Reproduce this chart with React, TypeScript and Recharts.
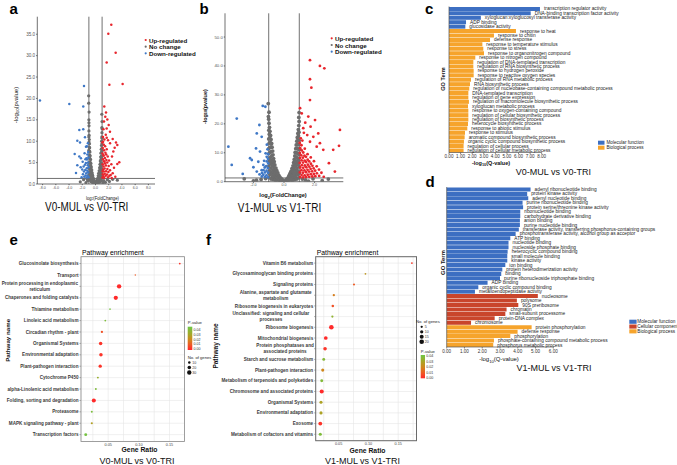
import React from "react";
import {
  ScatterChart,
  Scatter,
  XAxis,
  YAxis,
  ZAxis,
  ReferenceLine,
  CartesianGrid,
  BarChart,
  Bar,
  Cell,
  LabelList,
} from "recharts";

type Pt = [number, number];

const FONT = '"Liberation Sans", Arial, Helvetica, sans-serif';
const RED = "#e8262d";
const GREY = "#6d6d6d";
const BLUE = "#3f78c6";

// thresholds used in both volcano plots
const fcCut = 1;
const pCut = 1.3; // -log10(0.05)

// ---------- a: V0-MUL vs V0-TRI (log2FC, -log10 p) ----------
const aUp: Pt[] = [
  [2.39, 37.2], [1.94, 35.1], [3.05, 30.7], [1.69, 28.4], [2.1, 23.2], [4.1, 23.4],
  [1.33, 18.1], [1.59, 16.7], [1.48, 15.7], [1.29, 14.6], [1.79, 15.1], [2.0, 13.8],
  [2.19, 12.2], [1.69, 13.0], [2.9, 8.5], [3.3, 9.1], [3.1, 9.7], [3.6, 5.1], [3.3, 4.7],
  [2.5, 6.4], [2.7, 7.6], [2.2, 9.5],
  [1.05, 1.5], [1.1, 2.3], [1.15, 3.4], [1.08, 4.6], [1.12, 5.8], [1.06, 7.1], [1.1, 8.4],
  [1.04, 9.7], [1.14, 11.0], [1.2, 1.8], [1.25, 2.9], [1.22, 4.1], [1.28, 5.3], [1.24, 6.6],
  [1.3, 7.9], [1.26, 9.2], [1.35, 10.4], [1.32, 1.4], [1.4, 2.4], [1.38, 3.6], [1.45, 4.8],
  [1.42, 6.1], [1.5, 7.3], [1.46, 8.8], [1.55, 1.9], [1.6, 3.0], [1.58, 4.3], [1.65, 5.6],
  [1.62, 6.9], [1.7, 8.1], [1.75, 2.2], [1.8, 3.5], [1.78, 5.0], [1.85, 6.4], [1.9, 1.6],
  [1.95, 2.8], [2.0, 4.2], [2.05, 5.5], [2.1, 1.9], [2.2, 3.2], [2.3, 2.1], [2.4, 4.6],
  [2.6, 2.5], [2.8, 3.8], [3.0, 1.7], [2.45, 1.4], [1.9, 10.2], [1.55, 11.5], [1.2, 12.8],
  [1.15, 9.9], [1.7, 10.8], [2.6, 10.5], [1.36, 5.2], [1.08, 3.0], [1.18, 6.8],
];
const aNone: Pt[] = [
  [0.05, 0.1], [0.1, 0.4], [0.15, 0.2], [0.18, 0.7], [0.24, 0.4], [0.27, 1.0], [0.31, 0.6],
  [0.35, 1.4], [0.37, 0.3], [0.41, 1.9], [0.44, 1.0], [0.48, 2.5], [0.5, 0.5], [0.52, 1.6],
  [0.55, 3.1], [0.57, 2.2], [0.6, 1.1], [0.62, 3.8], [0.63, 2.7], [0.66, 0.4], [0.68, 4.6],
  [0.69, 3.3], [0.7, 1.8], [0.73, 5.4], [0.74, 4.1], [0.76, 2.5], [0.77, 0.9], [0.79, 6.3],
  [0.8, 4.9], [0.81, 3.2], [0.83, 7.2], [0.84, 5.7], [0.85, 1.6], [0.86, 4.0], [0.87, 8.1],
  [0.88, 6.5], [0.89, 2.6], [0.9, 9.0], [0.91, 7.4], [0.92, 4.8], [0.93, 10.0], [0.94, 0.8],
  [0.94, 8.3], [0.95, 3.5], [0.96, 11.0], [0.96, 6.0], [0.97, 9.4], [0.98, 12.0], [0.98, 2.0],
  [0.99, 7.7], [1.0, 10.7], [1.0, 4.6], [0.97, 13.2], [0.99, 14.6], [0.96, 16.3], [1.0, 12.9],
  [-0.04, 0.2], [-0.09, 0.5], [-0.14, 0.1], [-0.19, 0.8], [-0.23, 0.3], [-0.28, 1.1],
  [-0.32, 0.6], [-0.36, 1.5], [-0.4, 0.2], [-0.42, 2.0], [-0.45, 1.1], [-0.49, 2.6],
  [-0.51, 0.6], [-0.53, 1.8], [-0.56, 3.3], [-0.58, 2.3], [-0.61, 1.2], [-0.63, 4.0],
  [-0.64, 2.9], [-0.67, 0.5], [-0.69, 4.8], [-0.7, 3.5], [-0.71, 1.9], [-0.74, 5.7],
  [-0.75, 4.3], [-0.77, 2.6], [-0.78, 1.0], [-0.8, 6.6], [-0.81, 5.1], [-0.82, 3.4],
  [-0.84, 7.5], [-0.85, 6.0], [-0.86, 1.7], [-0.87, 4.2], [-0.88, 8.5], [-0.89, 6.8],
  [-0.9, 2.8], [-0.91, 9.4], [-0.92, 7.7], [-0.93, 5.0], [-0.94, 10.4], [-0.95, 0.9],
  [-0.95, 8.6], [-0.96, 3.7], [-0.97, 11.4], [-0.97, 6.3], [-0.98, 9.8], [-0.99, 12.4],
  [-0.99, 2.2], [-1.0, 7.9], [-1.0, 11.0], [-1.0, 4.9], [-0.98, 13.6], [-1.0, 15.0],
  [-0.97, 16.8], [-1.02, 18.9], [-0.99, 14.3], [-1.03, 20.6],
  [1.25, 0.8], [1.5, 0.4], [1.8, 1.0], [2.1, 0.6], [2.6, 1.1], [3.3, 0.9], [1.15, 0.2],
  [-1.2, 0.7], [-1.45, 0.3], [-1.8, 1.0], [-2.3, 0.5], [-1.3, 1.2],
];
const aDown: Pt[] = [
  [-8.4, 19.5], [-3.96, 18.7], [-1.85, 18.1], [-1.74, 22.9], [-2.45, 12.6], [-1.85, 12.8],
  [-2.75, 10.1], [-2.34, 9.7], [-3.15, 7.0], [-2.45, 6.4], [-2.75, 4.4], [-2.24, 3.9],
  [-2.95, 2.6], [-1.94, 5.2], [-1.59, 10.9], [-1.44, 8.7],
  [-1.05, 1.6], [-1.1, 2.7], [-1.04, 3.9], [-1.12, 5.0], [-1.06, 6.2], [-1.1, 7.5],
  [-1.2, 1.9], [-1.25, 3.1], [-1.18, 4.4], [-1.28, 5.7], [-1.22, 6.9], [-1.35, 1.5],
  [-1.4, 2.5], [-1.32, 3.7], [-1.45, 4.9], [-1.38, 6.0], [-1.5, 2.0], [-1.55, 3.3],
  [-1.6, 4.5], [-1.52, 5.8], [-1.7, 1.7], [-1.75, 2.9], [-1.8, 4.1], [-1.9, 2.3],
  [-2.0, 3.4], [-2.1, 1.6], [-1.65, 7.2], [-1.3, 8.8], [-1.15, 9.5], [-2.2, 6.0],
];
const aXTicks = [-8, -6, -4, -2, 0, 2, 4, 6, 8];
const aYTicks = [0, 5, 10, 15, 20, 25, 30, 35];

// ---------- b: V1-MUL vs V1-TRI ----------
const bUp: Pt[] = [
  [1.7, 42.0], [2.64, 39.2], [2.35, 40.0], [1.7, 35.4], [1.79, 32.5], [3.66, 17.9],
  [3.6, 12.4], [3.22, 11.0], [3.33, 3.5], [2.94, 6.4], [1.7, 28.2], [1.05, 25.4],
  [1.16, 23.6], [1.59, 22.5], [2.03, 21.3], [1.39, 20.4], [1.74, 19.0], [1.26, 18.5],
  [2.24, 16.7], [1.52, 16.1], [1.92, 15.5], [2.35, 13.3], [1.7, 13.8], [2.14, 12.1],
  [2.57, 11.0],
  [1.05, 1.6], [1.04, 3.2], [1.06, 4.9], [1.03, 6.5], [1.05, 8.2], [1.04, 9.9], [1.06, 11.6],
  [1.03, 13.4], [1.15, 2.3], [1.14, 4.0], [1.16, 5.7], [1.15, 7.4], [1.13, 9.1], [1.16, 10.8],
  [1.14, 12.6], [1.25, 1.5], [1.24, 3.1], [1.26, 4.8], [1.25, 6.6], [1.24, 8.3], [1.26, 10.1],
  [1.35, 2.2], [1.34, 3.9], [1.36, 5.6], [1.35, 7.3], [1.34, 9.0], [1.36, 11.4], [1.45, 1.6],
  [1.44, 3.3], [1.46, 5.0], [1.45, 6.8], [1.44, 8.6], [1.55, 2.4], [1.54, 4.1], [1.56, 5.9],
  [1.55, 7.6], [1.54, 9.5], [1.65, 1.7], [1.64, 3.5], [1.66, 5.2], [1.65, 7.0], [1.75, 2.6],
  [1.74, 4.4], [1.76, 6.2], [1.75, 8.4], [1.85, 1.8], [1.84, 3.6], [1.86, 5.5], [1.95, 2.7],
  [1.94, 4.6], [1.96, 7.1], [2.05, 1.9], [2.04, 3.8], [2.15, 2.9], [2.14, 5.3], [2.3, 2.0],
  [2.29, 4.2], [2.45, 3.1], [2.6, 1.7], [1.1, 15.0], [1.2, 14.2], [1.3, 16.9],
];
const bNone: Pt[] = [
  [0.08, 0.2], [0.12, 0.6], [0.17, 0.3], [0.2, 1.0], [0.24, 0.5], [0.28, 1.5], [0.3, 0.4],
  [0.33, 2.1], [0.36, 1.1], [0.39, 2.8], [0.41, 0.6], [0.43, 1.9], [0.46, 3.6], [0.48, 2.6],
  [0.5, 1.2], [0.52, 4.5], [0.54, 3.3], [0.55, 0.5], [0.57, 2.2], [0.59, 5.5], [0.6, 4.1],
  [0.62, 1.4], [0.63, 6.6], [0.64, 3.0], [0.66, 5.0], [0.67, 7.7], [0.68, 0.7], [0.69, 2.3],
  [0.7, 6.1], [0.71, 8.9], [0.72, 4.0], [0.73, 10.1], [0.74, 7.2], [0.75, 1.5], [0.76, 5.4],
  [0.77, 11.4], [0.78, 8.6], [0.79, 3.2], [0.8, 12.7], [0.81, 10.0], [0.82, 6.6], [0.83, 0.9],
  [0.84, 14.0], [0.85, 11.6], [0.85, 4.5], [0.86, 8.2], [0.87, 15.3], [0.88, 2.4], [0.88, 13.0],
  [0.89, 9.8], [0.9, 6.0], [0.91, 16.7], [0.92, 14.4], [0.92, 11.3], [0.93, 3.6], [0.94, 18.0],
  [0.94, 7.7], [0.95, 15.8], [0.96, 12.8], [0.96, 1.3], [0.97, 19.4], [0.97, 9.4], [0.98, 5.2],
  [0.98, 17.1], [0.99, 14.2], [0.99, 20.8], [1.0, 11.0], [1.0, 2.9], [0.97, 22.2], [0.99, 23.9],
  [0.96, 6.9],
  [-0.07, 0.3], [-0.11, 0.7], [-0.16, 0.2], [-0.19, 1.1], [-0.23, 0.5], [-0.27, 1.6],
  [-0.31, 0.4], [-0.34, 2.2], [-0.37, 1.2], [-0.4, 3.0], [-0.42, 0.6], [-0.44, 2.0],
  [-0.47, 3.8], [-0.49, 2.7], [-0.51, 1.3], [-0.53, 4.7], [-0.55, 3.4], [-0.56, 0.5],
  [-0.58, 2.3], [-0.6, 5.8], [-0.61, 4.3], [-0.63, 1.5], [-0.64, 6.9], [-0.65, 3.1],
  [-0.67, 5.2], [-0.68, 8.0], [-0.69, 0.8], [-0.7, 2.4], [-0.71, 6.4], [-0.72, 9.3],
  [-0.73, 4.1], [-0.74, 10.6], [-0.75, 7.5], [-0.76, 1.6], [-0.77, 5.6], [-0.78, 11.9],
  [-0.79, 9.0], [-0.8, 3.3], [-0.81, 13.2], [-0.82, 10.4], [-0.83, 6.9], [-0.84, 0.9],
  [-0.85, 14.6], [-0.86, 12.0], [-0.86, 4.7], [-0.87, 8.5], [-0.88, 16.0], [-0.89, 2.5],
  [-0.89, 13.5], [-0.9, 10.2], [-0.91, 6.2], [-0.92, 17.4], [-0.93, 15.0], [-0.93, 11.8],
  [-0.94, 3.7], [-0.95, 18.8], [-0.95, 8.0], [-0.96, 16.4], [-0.97, 13.3], [-0.97, 1.4],
  [-0.98, 20.2], [-0.98, 9.8], [-0.99, 5.4], [-0.99, 17.8], [-1.0, 14.8], [-1.0, 21.6],
  [-1.0, 11.4], [-1.0, 3.0], [-1.02, 22.5], [-1.03, 27.0], [-0.98, 24.0], [-0.97, 7.1],
  [1.2, 0.9], [1.4, 0.6], [1.9, 1.0], [2.5, 0.4], [2.9, 0.9], [-1.2, 1.1], [-1.5, 0.8],
  [-2.0, 0.3], [-2.6, 1.0], [1.6, 0.2], [-1.8, 0.5],
];
const bDown: Pt[] = [
  [-3.64, 12.1], [-3.09, 21.8], [-3.42, 5.8], [-2.7, 2.7], [-2.22, 8.1], [-1.61, 19.6],
  [-1.39, 26.2], [-1.22, 25.9], [-1.78, 16.7], [-1.46, 15.5], [-1.83, 11.5], [-1.57, 10.4],
  [-2.11, 7.5], [-1.68, 6.9], [-1.35, 5.8], [-2.0, 5.0], [-1.46, 4.0], [-1.78, 3.5],
  [-1.13, 8.6],
  [-1.05, 1.5], [-1.04, 3.1], [-1.06, 4.7], [-1.03, 6.3], [-1.05, 7.9], [-1.04, 9.5],
  [-1.15, 2.2], [-1.14, 3.8], [-1.16, 5.4], [-1.13, 7.0], [-1.25, 1.6], [-1.24, 3.2],
  [-1.26, 4.9], [-1.35, 2.4], [-1.34, 4.0], [-1.45, 1.8], [-1.44, 3.0], [-1.6, 2.5],
  [-1.08, 11.2], [-1.12, 12.8], [-1.2, 9.8], [-1.3, 7.2],
];
const bXTicks = [-2, 0, 2];
const bYTicks = [0, 10, 20, 30, 40, 50];

const volcanoLegend = ["Up-regulated", "No change", "Down-regulated"];
const volcanoColors = [RED, GREY, BLUE];

// ---------- c: GO terms V0 ----------
const cTerms = [
  "transcription regulator activity",
  "DNA-binding transcription factor activity",
  "xyloglucan:xyloglucosyl transferase activity",
  "ADP binding",
  "glucosidase activity",
  "response to heat",
  "response to chitin",
  "defense response",
  "response to temperature stimulus",
  "response to stress",
  "response to organonitrogen compound",
  "response to nitrogen compound",
  "regulation of DNA-templated transcription",
  "regulation of RNA biosynthetic process",
  "response to hydrogen peroxide",
  "response to reactive oxygen species",
  "regulation of RNA metabolic process",
  "RNA biosynthetic process",
  "regulation of nucleobase-containing compound metabolic process",
  "DNA-templated transcription",
  "regulation of gene expression",
  "regulation of macromolecule biosynthetic process",
  "xyloglucan metabolic process",
  "response to oxygen-containing compound",
  "regulation of cellular biosynthetic process",
  "regulation of biosynthetic process",
  "heterocycle biosynthetic process",
  "response to abiotic stimulus",
  "response to stimulus",
  "aromatic compound biosynthetic process",
  "organic cyclic compound biosynthetic process",
  "regulation of cellular process",
  "regulation of cellular metabolic process",
];
const cValues = [
  7.85, 7.05, 2.75, 1.47, 1.41, 5.78, 3.88, 3.54, 2.88, 2.96, 3.02, 2.27, 2.1, 2.1, 2.13,
  2.13, 1.9, 1.81, 1.75, 1.67, 1.67, 1.72, 1.64, 1.67, 1.67, 1.67, 1.64, 1.58, 1.38, 1.35,
  1.29, 1.26, 1.26,
];
const cGroupCounts: [string, number][] = [["MF", 5], ["BP", 28]];
const cTicks = [0, 1, 2, 3, 4, 5, 6, 7, 8];

// ---------- d: GO terms V1 ----------
const dTerms = [
  "adenyl ribonucleotide binding",
  "protein kinase activity",
  "adenyl nucleotide binding",
  "purine ribonucleotide binding",
  "protein serine/threonine kinase activity",
  "ribonucleotide binding",
  "carbohydrate derivative binding",
  "anion binding",
  "purine nucleotide binding",
  "transferase activity, transferring phosphorus-containing groups",
  "phosphotransferase activity, alcohol group as acceptor",
  "ATP binding",
  "nucleotide binding",
  "nucleoside phosphate binding",
  "heterocyclic compound binding",
  "small molecule binding",
  "kinase activity",
  "ion binding",
  "protein heterodimerization activity",
  "binding",
  "purine ribonucleoside triphosphate binding",
  "ADP binding",
  "organic cyclic compound binding",
  "metalloendopeptidase activity",
  "nucleosome",
  "polysome",
  "90S preribosome",
  "chromatin",
  "small-subunit processome",
  "protein-DNA complex",
  "chromosome",
  "protein phosphorylation",
  "defense response",
  "phosphorylation",
  "phosphate-containing compound metabolic process",
  "phosphorus metabolic process",
];
const dValues = [
  4.72, 4.53, 4.59, 4.27, 4.3, 4.14, 4.14, 4.12, 4.12, 4.06, 3.88, 3.58, 3.48, 3.48, 3.43,
  3.41, 3.41, 3.3, 3.13, 3.07, 3.0, 2.3, 1.78, 1.59, 5.13, 3.95, 4.03, 3.37, 3.3, 2.7, 1.37,
  4.78, 3.99, 3.58, 2.66, 2.62,
];
const dGroupCounts: [string, number][] = [["MF", 24], ["CC", 7], ["BP", 5]];
const dTicks = [0, 1, 2, 3, 4, 5, 6];

const goNames: Record<string, string> = {
  MF: "Molecular function",
  CC: "Cellular component",
  BP: "Biological process",
};
const goColors: Record<string, string> = { MF: "#3d6fc2", CC: "#c9452b", BP: "#f6a42c" };

// ---------- e: KEGG enrichment V0 ----------
const eNames = [
  "Glucosinolate biosynthesis",
  "Transport",
  "Protein processing in endoplasmic\nreticulum",
  "Chaperones and folding catalysts",
  "Thiamine metabolism",
  "Linoleic acid metabolism",
  "Circadian rhythm - plant",
  "Organismal Systems",
  "Environmental adaptation",
  "Plant-pathogen interaction",
  "Cytochrome P450",
  "alpha-Linolenic acid metabolism",
  "Folding, sorting and degradation",
  "Proteasome",
  "MAPK signaling pathway - plant",
  "Transcription factors",
];
const eRatio = [
  0.1667, 0.0942, 0.0678, 0.0624, 0.053, 0.0453, 0.0398, 0.0377, 0.0382, 0.037, 0.0332,
  0.0299, 0.0266, 0.0233, 0.0233, 0.0134,
];
const ePval = [
  0.002, 0.01, 0.0, 0.0, 0.045, 0.042, 0.008, 0.002, 0.002, 0.002, 0.035, 0.042, 0.0, 0.043,
  0.028, 0.045,
];
const eGenes = [5, 3, 30, 28, 4, 5, 8, 19, 19, 17, 6, 6, 26, 6, 7, 13];
const eTicks = [0.025, 0.05, 0.075, 0.1, 0.125, 0.15];
const eMajor = [0.05, 0.1, 0.15];
const eSizeKeys = [10, 20, 30];

// ---------- f: KEGG enrichment V1 ----------
const fNames = [
  "Vitamin B6 metabolism",
  "Glycosaminoglycan binding proteins",
  "Signaling proteins",
  "Alanine, aspartate and glutamate\nmetabolism",
  "Ribosome biogenesis in eukaryotes",
  "Unclassified: signaling and cellular\nprocesses",
  "Ribosome biogenesis",
  "Mitochondrial biogenesis",
  "Protein phosphatases and\nassociated proteins",
  "Starch and sucrose metabolism",
  "Plant-pathogen interaction",
  "Metabolism of terpenoids and polyketides",
  "Chromosome and associated proteins",
  "Organismal Systems",
  "Environmental adaptation",
  "Exosome",
  "Metabolism of cofactors and vitamins",
];
const fRatio = [
  0.173, 0.095, 0.0758, 0.0419, 0.0402, 0.0395, 0.0378, 0.0284, 0.0272, 0.025, 0.0233,
  0.0216, 0.0216, 0.0204, 0.0204, 0.0192, 0.0192,
];
const fPval = [
  0.003, 0.025, 0.01, 0.018, 0.008, 0.037, 0.0, 0.0, 0.002, 0.04, 0.02, 0.041, 0.0, 0.029,
  0.029, 0.002, 0.042,
];
const fGenes = [3, 3, 4, 5, 6, 5, 20, 13, 12, 8, 9, 8, 16, 9, 9, 14, 9];
const fTicks = [0.025, 0.05, 0.075, 0.1, 0.125, 0.15, 0.175];
const fMajor = [0.05, 0.1, 0.15];
const fSizeKeys = [5, 10, 15, 20];

const pTicks = [0.04, 0.03, 0.02, 0.01, 0.0];

// colour ramp for P-value (red -> brown -> green)
const P_STOPS: [number, string][] = [
  [0, "#ff2a2a"],
  [0.01, "#ee5a23"],
  [0.02, "#d0871c"],
  [0.03, "#a9a526"],
  [0.047, "#6ec645"],
];
function hex(c: string) {
  return [1, 3, 5].map((i) => parseInt(c.slice(i, i + 2), 16));
}
function pColor(p: number) {
  if (p <= P_STOPS[0][0]) return P_STOPS[0][1];
  for (let i = 1; i < P_STOPS.length; i++) {
    if (p <= P_STOPS[i][0]) {
      const [a, ca] = P_STOPS[i - 1];
      const [b, cb] = P_STOPS[i];
      const t = (p - a) / (b - a);
      const A = hex(ca);
      const B = hex(cb);
      return `rgb(${A.map((v, k) => Math.round(v + (B[k] - v) * t)).join(",")})`;
    }
  }
  return P_STOPS[P_STOPS.length - 1][1];
}

const expand = (counts: [string, number][]) =>
  counts.flatMap(([g, n]) => Array.from({ length: n }, () => g));

const dot = (r: number, fill: string) => (p: any) =>
  <circle cx={p.cx} cy={p.cy} r={r} fill={fill} />;

function Volcano(props: any) {
  const { up, none, down, xDomain, yDomain, xTicks, yTicks, w, h, top, right, yw, xh, fx, fy, r, rg } =
    props;
  const toObj = (a: Pt[]) => a.map(([x, y]) => ({ x, y }));
  const line = { stroke: "#333", strokeWidth: 0.7 };
  return (
    <ScatterChart width={w} height={h} margin={{ top, right, bottom: 0, left: 0 }}>
      <XAxis
        type="number"
        dataKey="x"
        domain={xDomain}
        ticks={xTicks}
        interval={0}
        allowDataOverflow
        height={xh}
        tickSize={1.2}
        tickMargin={0.8}
        tickFormatter={(v: number) => v.toFixed(1)}
        tick={{ fontSize: fx, fill: "#555" }}
        axisLine={line}
        tickLine={line}
      />
      <YAxis
        type="number"
        dataKey="y"
        domain={yDomain}
        ticks={yTicks}
        interval={0}
        allowDataOverflow
        width={yw}
        tickSize={1.2}
        tickMargin={1}
        tickFormatter={(v: number) => v.toFixed(1)}
        tick={{ fontSize: fy, fill: "#555" }}
        axisLine={line}
        tickLine={line}
      />
      <Scatter data={toObj(none)} shape={dot(rg, GREY)} isAnimationActive={false} />
      <Scatter data={toObj(up)} shape={dot(r, RED)} isAnimationActive={false} />
      <Scatter data={toObj(down)} shape={dot(r, BLUE)} isAnimationActive={false} />
      <ReferenceLine x={-fcCut} {...line} />
      <ReferenceLine x={fcCut} {...line} />
      <ReferenceLine y={pCut} {...line} />
    </ScatterChart>
  );
}

function GoBars(props: any) {
  const { terms, values, groups, ticks, w, h, top, right, yw, xh } = props;
  const data = terms.map((t: string, i: number) => ({ term: t, value: values[i], group: groups[i] }));
  const line = { stroke: "#555", strokeWidth: 0.7 };
  return (
    <BarChart
      layout="vertical"
      width={w}
      height={h}
      data={data}
      margin={{ top, right, bottom: 0, left: 0 }}
      barCategoryGap="10%"
    >
      <XAxis
        type="number"
        domain={[ticks[0], ticks[ticks.length - 1]]}
        ticks={ticks}
        interval={0}
        height={xh}
        tickSize={1.5}
        tickMargin={1}
        tickFormatter={(v: number) => v.toFixed(2)}
        tick={{ fontSize: 4.6, fill: "#333" }}
        axisLine={line}
        tickLine={line}
      />
      <YAxis type="category" dataKey="term" width={yw} tick={false} tickLine={false} axisLine={line} />
      <Bar dataKey="value" isAnimationActive={false}>
        {data.map((d: any, i: number) => (
          <Cell key={i} fill={goColors[d.group]} />
        ))}
        <LabelList
          dataKey="term"
          content={(p: any) => (
            <text
              x={p.x + p.width + 4}
              y={p.y + p.height / 2}
              fontSize={4.8}
              fill="#222"
              dominantBaseline="central"
            >
              {p.value}
            </text>
          )}
        />
      </Bar>
    </BarChart>
  );
}

function CatTick({ x, y, payload, names }: any) {
  const label: string = names[payload.value - 1] ?? "";
  const lines = label.split("\n");
  const fs = 4.6;
  const lh = 5.8;
  const multi = lines.length > 1;
  const w = lines[0].length * fs * 0.51;
  const ax = multi ? x - w / 2 : x;
  return (
    <text
      x={ax}
      y={y}
      fontSize={fs}
      fontWeight="bold"
      fill="#3a3a3a"
      textAnchor={multi ? "middle" : "end"}
    >
      {lines.map((ln, i) => (
        <tspan key={i} x={ax} dy={i === 0 ? (-(lines.length - 1) * lh) / 2 + fs * 0.35 : lh}>
          {ln}
        </tspan>
      ))}
    </text>
  );
}

function Enrich(props: any) {
  const { names, ratio, pval, genes, xDomain, ticks, major, zMax, areaMax, w, h, top, yw, xh } =
    props;
  const data = names.map((_: string, i: number) => ({ x: ratio[i], y: i + 1, z: genes[i], p: pval[i] }));
  const idx = names.map((_: string, i: number) => i + 1);
  return (
    <ScatterChart width={w} height={h} margin={{ top, right: 1.5, bottom: 0, left: 0 }}>
      <CartesianGrid stroke="#e6e6e6" strokeWidth={0.6} />
      <XAxis
        type="number"
        dataKey="x"
        domain={xDomain}
        ticks={ticks}
        interval={0}
        allowDataOverflow
        height={xh}
        axisLine={false}
        tickLine={false}
        tickSize={1}
        tickMargin={1}
        tick={(p: any) => {
          const v = p.payload.value;
          const isMajor = major.some((m: number) => Math.abs(m - v) < 1e-9);
          return isMajor ? (
            <text x={p.x} y={p.y + 1.3} textAnchor="middle" dominantBaseline="central" fontSize={3.8} fill="#444">
              {v.toFixed(2)}
            </text>
          ) : (
            <g />
          );
        }}
      />
      <YAxis
        type="number"
        dataKey="y"
        domain={[0.4, names.length + 0.6]}
        reversed
        ticks={idx}
        interval={0}
        allowDataOverflow
        width={yw}
        axisLine={false}
        tickSize={1.5}
        tickMargin={1}
        tickLine={{ stroke: "#555", strokeWidth: 0.5 }}
        tick={(p: any) => <CatTick {...p} names={names} />}
      />
      <ZAxis type="number" dataKey="z" domain={[0, zMax]} range={[0, areaMax]} />
      <Scatter
        data={data}
        isAnimationActive={false}
        shape={(p: any) => (
          <circle cx={p.cx} cy={p.cy} r={Math.max(p.width / 2, 0.5)} fill={pColor(p.payload.p)} />
        )}
      />
    </ScatterChart>
  );
}

function Txt({ x, y, s, w = 400, anchor = "middle", rot = 0, sy = 1, fill = "#111", children }: any) {
  return (
    <text
      transform={`translate(${x},${y}) rotate(${rot}) scale(1,${sy})`}
      fontSize={s}
      fontWeight={w}
      textAnchor={anchor}
      dominantBaseline="central"
      fill={fill}
    >
      {children}
    </text>
  );
}

const sub = (a: string, b: string, c: string, s: number) => (
  <>
    <tspan>{a}</tspan>
    <tspan dy={s * 0.3} fontSize={s * 0.7}>
      {b}
    </tspan>
    <tspan dy={-s * 0.3}>{c}</tspan>
  </>
);

function Letter({ x, y, ch }: any) {
  return (
    <text x={x} y={y} fontSize={15} fontWeight="bold" fill="#000">
      {ch}
    </text>
  );
}

function gradStops(lo: number, hi: number) {
  return P_STOPS.map(([v, c], i) => (
    <stop key={i} offset={Math.min(1, Math.max(0, (v - lo) / (hi - lo)))} stopColor={c} />
  ));
}

function ColorBar({ id, x, y, w, h, lo, hi, ticks }: any) {
  return (
    <g>
      <rect x={x} y={y} width={w} height={h} fill={`url(#${id})`} />
      {ticks
        .filter((t: number) => t >= lo && t <= hi)
        .map((t: number) => (
          <Txt key={t} x={x + w + 1.3} y={y + h - ((t - lo) / (hi - lo)) * h} s={3.6} anchor="start" fill="#333">
            {t.toFixed(2)}
          </Txt>
        ))}
    </g>
  );
}

function SizeKey({ x, y, keys, zMax, areaMax, step }: any) {
  return (
    <g>
      {keys.map((k: number, i: number) => (
        <g key={k}>
          <circle cx={x} cy={y + i * step} r={Math.sqrt(((k / zMax) * areaMax) / Math.PI)} fill="#111" />
          <Txt x={x + 3} y={y + i * step} s={3.6} anchor="start" fill="#333">
            {k}
          </Txt>
        </g>
      ))}
    </g>
  );
}

function Overlay() {
  const cLegend = cGroupCounts.map(([g]) => g);
  const dLegend = dGroupCounts.map(([g]) => g);
  return (
    <svg
      width={677}
      height={465}
      style={{ position: "absolute", left: 0, top: 0, pointerEvents: "none" }}
      fontFamily={FONT}
    >
      <defs>
        <linearGradient id="pgE" x1="0" y1="1" x2="0" y2="0">
          {gradStops(-0.0014, 0.0468)}
        </linearGradient>
        <linearGradient id="pgF" x1="0" y1="1" x2="0" y2="0">
          {gradStops(-0.0001, 0.0418)}
        </linearGradient>
      </defs>

      {/* panel letters */}
      <Letter x={9.5} y={14} ch="a" />
      <Letter x={199.5} y={14} ch="b" />
      <Letter x={425} y={13.6} ch="c" />
      <Letter x={425.5} y={187} ch="d" />
      <Letter x={9.5} y={245} ch="e" />
      <Letter x={206} y={245} ch="f" />

      {/* a */}
      <Txt x={15.5} y={105} s={6} rot={-90}>
        {sub("-log", "10", "(pvalue)", 6)}
      </Txt>
      <Txt x={102.5} y={197.7} s={4.2} sy={1.3}>
        {sub("log", "2", "(FoldChange)", 4.2)}
      </Txt>
      <Txt x={86.7} y={207} s={10} sy={1.3}>
        V0-MUL vs V0-TRI
      </Txt>
      {volcanoLegend.map((t, i) => (
        <g key={t}>
          <circle cx={145.7} cy={40 + i * 6.65} r={1.1} fill={volcanoColors[i]} />
          <Txt x={149} y={40 + i * 6.65} s={6.2} w={700} anchor="start">
            {t}
          </Txt>
        </g>
      ))}

      {/* b */}
      <Txt x={204.5} y={106.7} s={5.4} w={700} rot={-90}>
        {sub("-log", "10", "(pvalue)", 5.4)}
      </Txt>
      <Txt x={283} y={195} s={5.7} w={700}>
        {sub("log", "2", "(FoldChange)", 5.7)}
      </Txt>
      <Txt x={279.5} y={207.3} s={10} sy={1.3}>
        V1-MUL vs V1-TRI
      </Txt>
      {volcanoLegend.map((t, i) => (
        <g key={t}>
          <circle cx={331.7} cy={38.3 + i * 6.7} r={1.1} fill={volcanoColors[i]} />
          <Txt x={335} y={38.3 + i * 6.7} s={6.2} w={700} anchor="start">
            {t}
          </Txt>
        </g>
      ))}

      {/* c */}
      <Txt x={443} y={79} s={5.6} w={700} rot={-90}>
        GO Term
      </Txt>
      <Txt x={491} y={163.3} s={5.5} w={700}>
        {sub("-log", "10", "(Q-value)", 5.5)}
      </Txt>
      <Txt x={553.3} y={172} s={9}>
        V0-MUL vs V0-TRI
      </Txt>
      {cLegend.map((g, i) => (
        <g key={g}>
          <rect x={598} y={140.7 + i * 5} width={6.5} height={4} fill={goColors[g]} />
          <Txt x={606.5} y={142.7 + i * 5} s={4.6} anchor="start" fill="#222">
            {goNames[g]}
          </Txt>
        </g>
      ))}

      {/* d */}
      <Txt x={443.3} y={262.5} s={5.9} w={700} rot={-90}>
        GO Term
      </Txt>
      <Txt x={499} y={359} s={6}>
        {sub("-log", "10", "(Q-value)", 6)}
      </Txt>
      <Txt x={554} y={368.3} s={9}>
        V1-MUL vs V1-TRI
      </Txt>
      {dLegend.map((g, i) => (
        <g key={g}>
          <rect x={629.3} y={319.7 + i * 4.8} width={7.3} height={4.1} fill={goColors[g]} />
          <Txt x={637.3} y={321.7 + i * 4.8} s={4.7} anchor="start" fill="#222">
            {goNames[g]}
          </Txt>
        </g>
      ))}

      {/* e */}
      <rect x={81} y={256.7} width={103.5} height={184.8} fill="none" stroke="#8a8a8a" strokeWidth={0.8} />
      <Txt x={7} y={340.3} s={6.2} w={700} rot={-90}>
        Pathway name
      </Txt>
      <Txt x={82} y={252.7} s={6.8} anchor="start" fill="#000">
        Pathway enrichment
      </Txt>
      <Txt x={139.5} y={449.3} s={6.8} w={700}>
        Gene Ratio
      </Txt>
      <Txt x={137} y={461} s={9}>
        V0-MUL vs V0-TRI
      </Txt>
      <Txt x={187.7} y={322.5} s={4.2} anchor="start" fill="#222">
        P-value
      </Txt>
      <ColorBar id="pgE" x={187.7} y={326.7} w={4.6} h={23.3} lo={-0.0014} hi={0.0468} ticks={pTicks} />
      <Txt x={187.7} y={357.7} s={4.2} anchor="start" fill="#222">
        No. of genes
      </Txt>
      <SizeKey x={189.3} y={362.5} keys={eSizeKeys} zMax={30} areaMax={15.2} step={5} />

      {/* f */}
      <rect x={315.7} y={256.7} width={100.8} height={184} fill="none" stroke="#6a6a6a" strokeWidth={1} />
      <Txt x={215} y={346} s={6.5} w={700} rot={-90}>
        Pathway name
      </Txt>
      <Txt x={316.7} y={252.7} s={6.8} anchor="start" fill="#000">
        Pathway enrichment
      </Txt>
      <Txt x={367.5} y={450} s={6.8} w={700}>
        Gene Ratio
      </Txt>
      <Txt x={362.5} y={461} s={9}>
        V1-MUL vs V1-TRI
      </Txt>
      <Txt x={416} y={321.7} s={4.2} anchor="start" fill="#222">
        No. of genes
      </Txt>
      <SizeKey x={421.7} y={326.8} keys={fSizeKeys} zMax={20} areaMax={16.6} step={5} />
      <Txt x={420.7} y={351.7} s={4.2} anchor="start" fill="#222">
        P-value
      </Txt>
      <ColorBar id="pgF" x={420.7} y={355} w={4.3} h={23.3} lo={-0.0001} hi={0.0418} ticks={pTicks} />
    </svg>
  );
}

const box = (left: number, top: number): React.CSSProperties => ({ position: "absolute", left, top });

export default function App() {
  return (
    <div
      style={{
        position: "absolute",
        left: 0,
        top: 0,
        width: 677,
        height: 465,
        background: "#fff",
        fontFamily: FONT,
        overflow: "hidden",
      }}
    >
      <div style={box(0, 0)}>
        <Volcano
          up={aUp}
          none={aNone}
          down={aDown}
          xDomain={[-8.8, 9.0]}
          yDomain={[0, 39.1]}
          xTicks={aXTicks}
          yTicks={aYTicks}
          w={160}
          h={192}
          top={16.7}
          right={5}
          yw={37.3}
          xh={8}
          fx={3.6}
          fy={4.6}
          r={1.25}
          rg={1.6}
        />
      </div>
      <div style={box(200, 0)}>
        <Volcano
          up={bUp}
          none={bNone}
          down={bDown}
          xDomain={[-3.86, 3.88]}
          yDomain={[0, 58.2]}
          xTicks={bXTicks}
          yTicks={bYTicks}
          w={148}
          h={190}
          top={13.3}
          right={4.7}
          yw={25}
          xh={8.3}
          fx={3.6}
          fy={4.3}
          r={1.4}
          rg={1.9}
        />
      </div>
      <div style={box(440, 0)}>
        <GoBars
          terms={cTerms}
          values={cValues}
          groups={expand(cGroupCounts)}
          ticks={cTicks}
          w={237}
          h={162}
          top={6.5}
          right={135.3}
          yw={9}
          xh={9.5}
        />
      </div>
      <div style={box(440, 180)}>
        <GoBars
          terms={dTerms}
          values={dValues}
          groups={expand(dGroupCounts)}
          ticks={dTicks}
          w={237}
          h={175}
          top={7}
          right={123.7}
          yw={6.7}
          xh={8}
        />
      </div>
      <div style={box(0, 250)}>
        <Enrich
          names={eNames}
          ratio={eRatio}
          pval={ePval}
          genes={eGenes}
          xDomain={[0.0057, 0.1744]}
          ticks={eTicks}
          major={eMajor}
          zMax={30}
          areaMax={15.2}
          w={186}
          h={200}
          top={6.7}
          yw={81}
          xh={8.5}
        />
      </div>
      <div style={box(214, 250)}>
        <Enrich
          names={fNames}
          ratio={fRatio}
          pval={fPval}
          genes={fGenes}
          xDomain={[0.0115, 0.1807]}
          ticks={fTicks}
          major={fMajor}
          zMax={20}
          areaMax={16.6}
          w={204}
          h={199}
          top={6.7}
          yw={101.7}
          xh={8.3}
        />
      </div>
      <Overlay />
    </div>
  );
}
